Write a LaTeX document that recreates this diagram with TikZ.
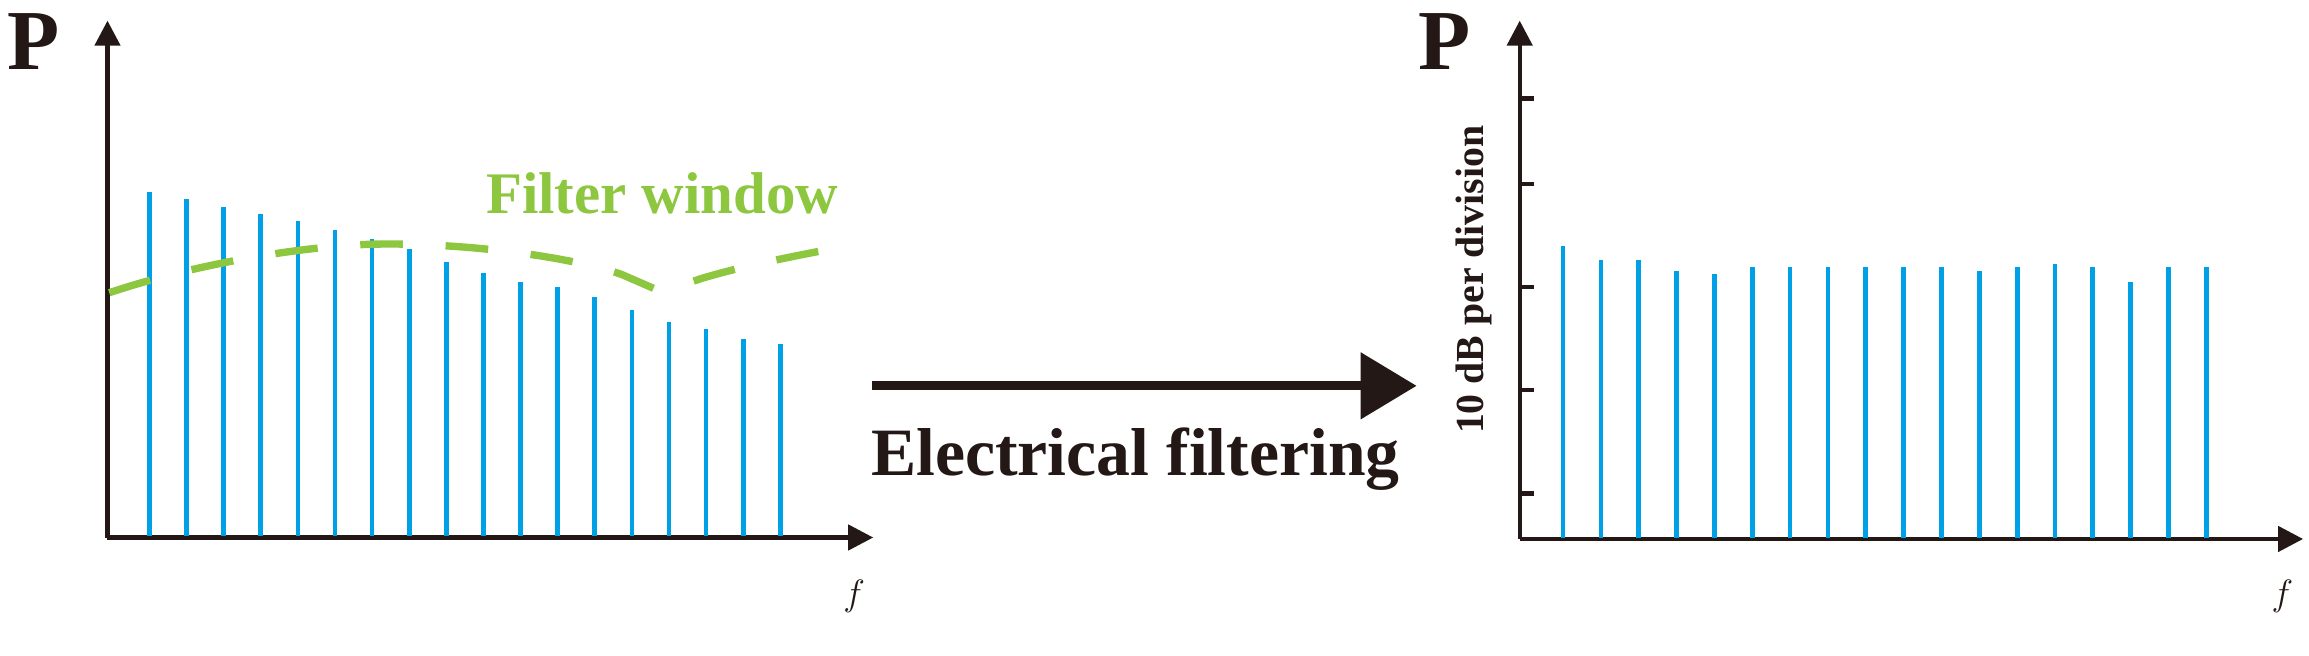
\documentclass[tikz,border=0pt]{standalone}
\usepackage{fontspec}
\setmainfont{Liberation Serif}
\usetikzlibrary{arrows.meta}
\definecolor{ink}{RGB}{35,24,21}
\definecolor{barblue}{RGB}{0,160,230}
\definecolor{fgreen}{RGB}{141,198,63}
\tikzset{
  axis/.style={draw=ink,line width=3pt,-{Triangle[length=17pt,width=17pt]}},
  bar/.style={draw=barblue,line width=3.2pt},
  tick/.style={draw=ink,line width=3pt},
  lbl/.style={text=ink,font=\bfseries,inner sep=0pt},
}
\begin{document}
\begin{tikzpicture}[x=1pt,y=-1pt]
\useasboundingbox (0,0) rectangle (1568,445);
% left axes
\coordinate (lo) at (73,365);
\coordinate (ly) at (73,14);
\coordinate (lx) at (593,365);
\draw[axis] (lo) -- (ly);
\draw[axis] (73,365) -- (lx);
\node[lbl,font=\bfseries\fontsize{58}{58}\selectfont,anchor=north west] (lp) at (5,9) {P};
\node[lbl,font=\itshape\fontsize{62}{62}\selectfont] (lf) at (580,405) {$f$};
% left bars
\foreach \i/\t in {0/130.6,1/134.8,2/140.6,3/145.4,4/150.1,5/156,6/162.6,7/169.3,8/177.9,9/185.4,10/191.3,11/195.2,12/201.9,13/210.8,14/218.6,15/223.3,16/230,17/233.3}{
  \draw[bar] ({101.5+\i*25.2},364) -- ({101.5+\i*25.2},\t);
}
% filter window
\draw[draw=fgreen,line width=5pt,dash pattern=on 29pt off 29pt]
  (74.2,198.8) .. controls (130,180) and (200,168) .. (248.1,166)
  .. controls (300,164) and (380,172) .. (422,186.3)
  -- (449.3,198.2) -- (476.7,189)
  .. controls (510,179) and (550,172) .. (580.3,166);
\node[lbl,text=fgreen,font=\bfseries\fontsize{40}{40}\selectfont,anchor=west] (fw) at (330,131) {Filter window};
% middle arrow
\coordinate (ma) at (592,262);
\coordinate (mb) at (962,262);
\draw[draw=ink,line width=6pt,-{Triangle[length=38pt,width=44pt]}] (ma) -- (mb);
\node[lbl,font=\bfseries\fontsize{46}{46}\selectfont] (ef) at (771,312) {Electrical filtering};
% right axes
\coordinate (ro) at (1032,366);
\coordinate (ry) at (1032,14);
\coordinate (rx) at (1564,366);
\draw[axis] (ro) -- (ry);
\draw[axis] (1032,366) -- (rx);
\node[lbl,font=\bfseries\fontsize{58}{58}\selectfont,anchor=north west] (rp) at (963,9) {P};
\node[lbl,font=\itshape\fontsize{62}{62}\selectfont] (rf) at (1550,405) {$f$};
\foreach \y in {67,125,195,265,335}{
  \draw[tick] (1032,\y) -- (1042,\y);
}
\node[lbl,font=\bfseries\fontsize{27}{27}\selectfont,rotate=90] (db) at (1001,190) {10 dB per division};
\foreach \i/\t in {0/166.8,1/176.5,2/176.5,3/184,4/186,5/181.3,6/181.3,7/181.3,8/181.3,9/181.3,10/181.3,11/184,12/181.3,13/179.3,14/181.3,15/191.3,16/181.3,17/181.3}{
  \draw[bar] ({1061.4+\i*25.7},365) -- ({1061.4+\i*25.7},\t);
}
\end{tikzpicture}
\end{document}
